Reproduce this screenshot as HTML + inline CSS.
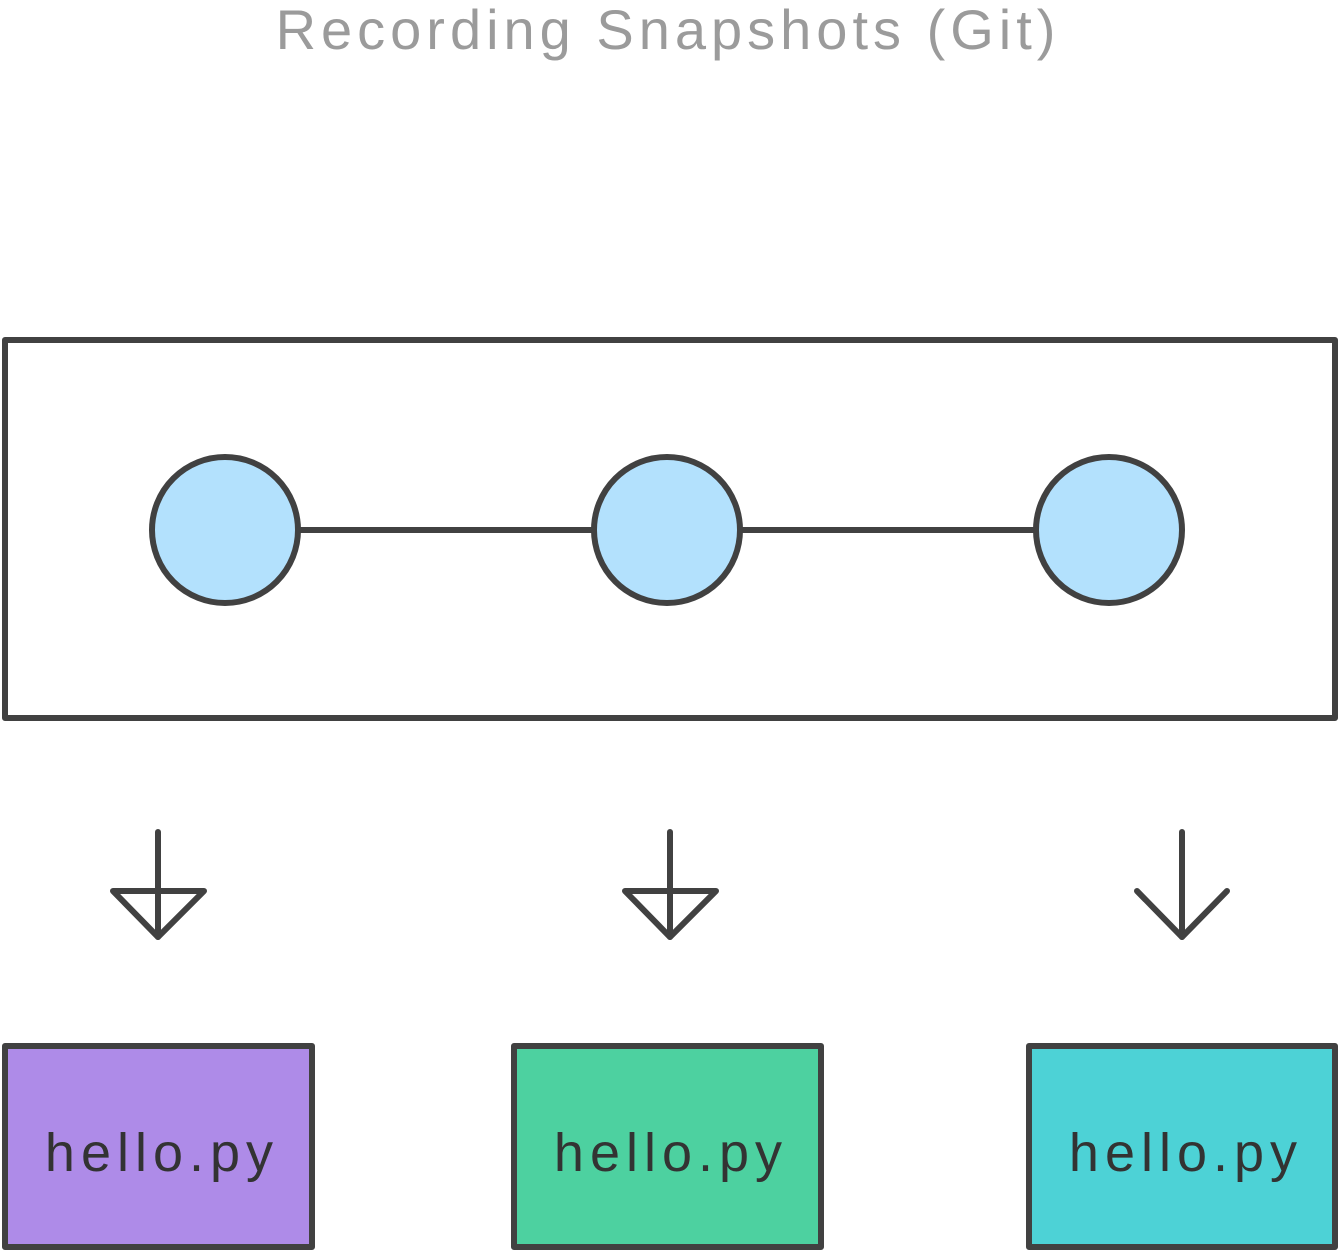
<!DOCTYPE html>
<html><head><meta charset="utf-8"><style>
html,body{margin:0;padding:0;background:#fff}
</style></head><body>
<svg width="1339" height="1252" viewBox="0 0 1339 1252" xmlns="http://www.w3.org/2000/svg">
<text x="668" y="49" text-anchor="middle" font-family="Liberation Sans, sans-serif" font-size="56" letter-spacing="5" fill="#9b9b9b">Recording Snapshots (Git)</text>
<g stroke="#414141" stroke-width="6" fill="none" stroke-linejoin="round" stroke-linecap="round">
<rect x="5" y="340" width="1330" height="378"/>
<line x1="298" y1="530" x2="594" y2="530"/>
<line x1="740" y1="530" x2="1036" y2="530"/>
<circle cx="225" cy="530" r="73" fill="#b3e1fd"/>
<circle cx="667" cy="530" r="73" fill="#b3e1fd"/>
<circle cx="1109" cy="530" r="73" fill="#b3e1fd"/>
<line x1="158" y1="832" x2="158" y2="937"/>
<polygon points="113,891 204,891 158,937"/>
<line x1="670" y1="832" x2="670" y2="937"/>
<polygon points="625,891 716,891 670,937"/>
<line x1="1182" y1="832" x2="1182" y2="937"/>
<polyline points="1137,891 1182,937 1227,891"/>
<rect x="5" y="1046" width="307" height="201" fill="#ae8be8"/>
<rect x="514" y="1046" width="307" height="201" fill="#4dd1a0"/>
<rect x="1029" y="1046" width="306" height="201" fill="#4dd2d6"/>
</g>
<g font-family="Liberation Sans, sans-serif" font-size="54" fill="#333" text-anchor="middle" letter-spacing="6">
<text x="162" y="1171">hello.py</text>
<text x="671" y="1171">hello.py</text>
<text x="1186" y="1171">hello.py</text>
</g>
</svg>
</body></html>
